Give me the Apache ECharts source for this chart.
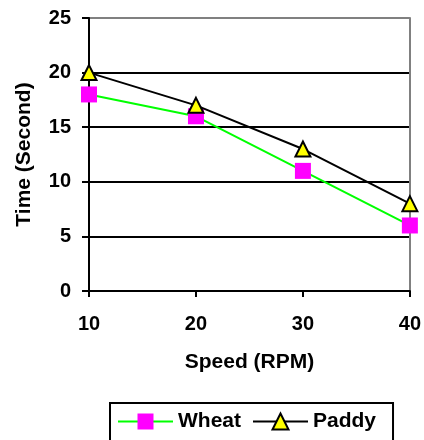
<!DOCTYPE html>
<html>
<head>
<meta charset="utf-8">
<script src="https://cdn.jsdelivr.net/npm/echarts@6/dist/echarts.min.js"></script>
<style>
  html, body { margin: 0; padding: 0; background: #fff; }
  #chartLineBox { width: 424px; height: 440px; }
</style>
</head>
<body>
<div id="chartLineBox"></div>
<script>
// data
var speeds = [10, 20, 30, 40];
var wheat = [18, 16, 11, 6];
var paddy = [20, 17, 13, 8];
var yTicks = [0, 5, 10, 15, 20, 25];

var font = "Arial, 'Liberation Sans', sans-serif";

function pairs(vals) {
  return speeds.map(function (s, i) { return [s, vals[i]]; });
}

var chart = echarts.init(document.getElementById("chartLineBox"));
var option = {
  animation: false,
  grid: { left: 89, top: 18, right: 12, bottom: 149 },
  legend: {
    left: 110,
    top: 403,
    orient: "horizontal",
    borderColor: "#000",
    borderWidth: 2,
    padding: [8, 17, 30, 7],
    itemWidth: 55,
    itemHeight: 20,
    itemGap: 11,
    textStyle: { fontFamily: font, fontWeight: "bold", fontSize: 21, color: "#000" },
    data: ["Wheat", "Paddy"]
  },
  xAxis: {
    type: "value",
    min: 10,
    max: 40,
    interval: 10,
    name: "Speed (RPM)",
    nameLocation: "middle",
    nameGap: 61,
    nameTextStyle: { fontFamily: font, fontWeight: "bold", fontSize: 21, color: "#000" },
    axisLine: { lineStyle: { color: "#000", width: 2 } },
    axisTick: { show: true, length: 6, lineStyle: { color: "#000", width: 2 } },
    axisLabel: { margin: 23, fontFamily: font, fontWeight: "bold", fontSize: 20, color: "#000" },
    splitLine: { show: false }
  },
  yAxis: [
    {
      type: "value",
      min: yTicks[0],
      max: yTicks[yTicks.length - 1],
      interval: 5,
      name: "Time (Second)",
      nameLocation: "middle",
      nameGap: 54,
      nameTextStyle: { fontFamily: font, fontWeight: "bold", fontSize: 21, color: "#000" },
      axisLine: { show: true, lineStyle: { color: "#000", width: 2 } },
      axisTick: { show: true, length: 7, lineStyle: { color: "#000", width: 2 } },
      axisLabel: { margin: 18, fontFamily: font, fontWeight: "bold", fontSize: 20, color: "#000" },
      splitLine: {
        show: true,
        lineStyle: { color: ["#000", "#000", "#000", "#000", "#000", "#808080"], width: 2 }
      }
    },
    {
      type: "value",
      position: "right",
      min: 0,
      max: 25,
      interval: 5,
      axisLine: { show: true, lineStyle: { color: "#808080", width: 2 } },
      axisTick: { show: false },
      axisLabel: { show: false },
      splitLine: { show: false }
    }
  ],
  series: [
    {
      name: "Wheat",
      type: "line",
      data: pairs(wheat),
      symbol: "rect",
      symbolSize: 16,
      lineStyle: { color: "#00ff00", width: 2 },
      itemStyle: { color: "#ff00ff", borderWidth: 0 },
      z: 3
    },
    {
      name: "Paddy",
      type: "line",
      data: pairs(paddy),
      symbol: "triangle",
      symbolSize: 15,
      lineStyle: { color: "#000", width: 2 },
      itemStyle: { color: "#ffff00", borderColor: "#000", borderWidth: 2 },
      z: 4
    }
  ]
};
chart.setOption(option);
</script>
</body>
</html>
